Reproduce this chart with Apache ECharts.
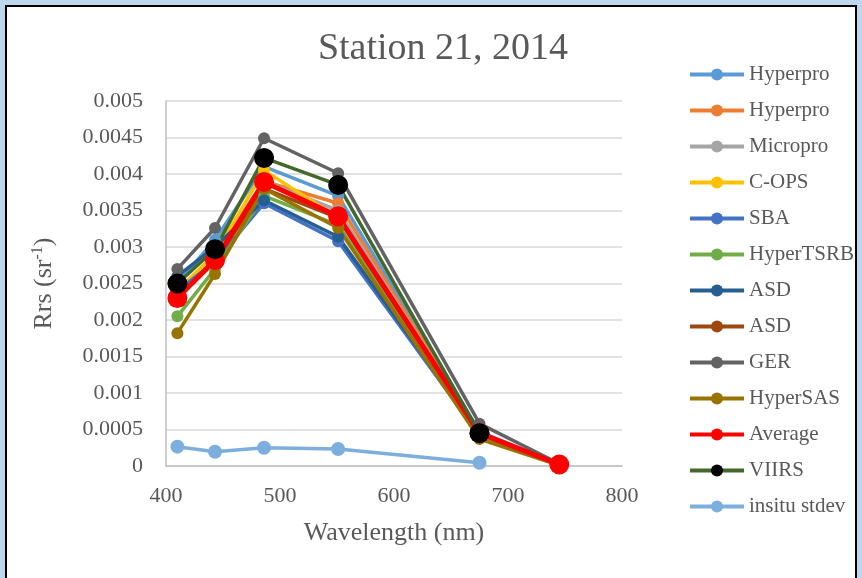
<!DOCTYPE html>
<html>
<head>
<meta charset="utf-8">
<script src="https://cdn.jsdelivr.net/npm/echarts@6/dist/echarts.min.js"></script>
<style>
	html,body{margin:0;padding:0;background:#bdd7ee;}
	#frame{position:absolute;left:5px;top:5px;width:848px;height:600px;background:#fff;border:2px solid #000;}
	#chart{position:absolute;left:0;top:0;width:862px;height:578px;}
</style>
</head>
<body>
<div id="frame"></div>
<div id="chart"></div>
<script>
// 波长 (nm)
var wavelengths = [410, 443, 486, 551, 675, 745];
// 图例名称 (#后为区分重名用的后缀, 不显示)
var seriesNames = ['Hyperpro#1','Hyperpro#2','Micropro','C-OPS','SBA','HyperTSRB','ASD#1','ASD#2','GER','HyperSAS','Average','VIIRS','insitu stdev'];
var hyperpro1 = [0.0025, 0.0031, 0.0041, 0.0037, 0.00047, 0.00002];
var hyperpro2 = [0.0024, 0.0029, 0.0039, 0.0036, 0.00045, 0.00002];
var micropro  = [0.0023, 0.0029, 0.0039, 0.0035, 0.00045, 0.00002];
var cops      = [0.0024, 0.0029, 0.00405, 0.0034, 0.00043, 0.00002];
var sba       = [0.0024, 0.0028, 0.0036, 0.00308, 0.00042, 0.00002];
var hypertsrb = [0.00205, 0.0027, 0.0037, 0.0033, 0.00042, 0.00002];
var asd1      = [0.0026, 0.0030, 0.00364, 0.00314, 0.00044, 0.00002];
var asd2      = [0.0023, 0.0028, 0.0038, 0.0034, 0.00044, 0.00002];
var ger       = [0.0027, 0.00326, 0.00449, 0.00401, 0.00058, 0.00003];
var hypersas  = [0.00182, 0.00263, 0.0038, 0.00326, 0.00037, 0.00001];
var average   = [0.0023, 0.00282, 0.00389, 0.00342, 0.00045, 0.00002];
var viirs     = [0.0025, 0.00297, 0.00422, 0.00385, 0.00045, null];
var stdev     = [0.000265, 0.000196, 0.00025, 0.000233, 0.000045, null];
var yTicks = ['0','0.0005','0.001','0.0015','0.002','0.0025','0.003','0.0035','0.004','0.0045','0.005'];

var allData = [hyperpro1,hyperpro2,micropro,cops,sba,hypertsrb,asd1,asd2,ger,hypersas,average,viirs,stdev];
var lineColors = ['#5B9BD5','#ED7D31','#A5A5A5','#FFC000','#4472C4','#70AD47','#255E91','#9E480E','#636363','#997300','#FF0000','#43682B','#7CAFDD'];
var dotColors  = ['#5B9BD5','#ED7D31','#A5A5A5','#FFC000','#4472C4','#70AD47','#255E91','#9E480E','#636363','#997300','#FF0000','#000000','#7CAFDD'];

function pairs(arr){
	var out = [];
	for(var i=0;i<arr.length;i++){
		if(arr[i]!=null) out.push([wavelengths[i], arr[i]]);
	}
	return out;
}

var font = '"Liberation Serif","Times New Roman",serif';
var series = [];
for(var i=0;i<allData.length;i++){
	var big = (i==10 || i==11);
	series.push({
		name: seriesNames[i],
		type: 'line',
		data: pairs(allData[i]),
		symbol: 'circle',
		symbolSize: big ? 20 : (i==12 ? 14 : 12),
		lineStyle: {color: lineColors[i], width: i==10 ? 5 : 3.5},
		itemStyle: {color: dotColors[i]},
		emphasis: {disabled: true}
	});
}

var chart = echarts.init(document.getElementById('chart'));
var option = {
	animation: false,
	title: {
		text: 'Station 21, 2014',
		left: 438,
		top: 25,
		textAlign: 'center',
		textStyle: {fontFamily: font, fontSize: 38, fontWeight: 'normal', color: '#595959'}
	},
	legend: {
		orient: 'vertical',
		left: 688,
		top: 64,
		padding: 0,
		itemWidth: 54,
		itemHeight: 15,
		itemGap: 15,
		lineStyle: {width: 4},
		textStyle: {fontFamily: font, fontSize: 21, color: '#595959', lineHeight: 21},
		formatter: function(name){ return name.split('#')[0]; },
		data: seriesNames
	},
	grid: {left: 166, right: 240, top: 101, bottom: 112},
	xAxis: {
		type: 'value',
		min: 400, max: 800, interval: 100,
		name: 'Wavelength (nm)',
		nameLocation: 'middle',
		nameGap: 54,
		nameTextStyle: {fontFamily: font, fontSize: 26, color: '#595959'},
		axisLine: {lineStyle: {color: '#BFBFBF', width: 1.5}},
		axisTick: {show: false},
		splitLine: {show: false},
		axisLabel: {fontFamily: font, fontSize: 22, color: '#595959', margin: 19}
	},
	yAxis: {
		type: 'value',
		min: 0, max: 0.005, interval: 0.0005,
		name: '{a|Rrs (sr}{s|-1}{a|)}',
		nameLocation: 'middle',
		nameGap: 108,
		nameRotate: 90,
		nameTextStyle: {
			rich: {
				a: {fontFamily: font, fontSize: 26, color: '#595959'},
				s: {fontFamily: font, fontSize: 16, color: '#595959', padding: [0,0,12,0]}
			}
		},
		axisLine: {show: true, lineStyle: {color: '#BFBFBF', width: 1.5}},
		axisTick: {show: false},
		splitLine: {lineStyle: {color: '#D9D9D9', width: 1.5}},
		axisLabel: {
			fontFamily: font, fontSize: 22, color: '#595959', margin: 23,
			formatter: function(v){
				var idx = Math.round(v/0.0005);
				return yTicks[idx];
			}
		}
	},
	series: series
};
chart.setOption(option);
</script>
</body>
</html>
